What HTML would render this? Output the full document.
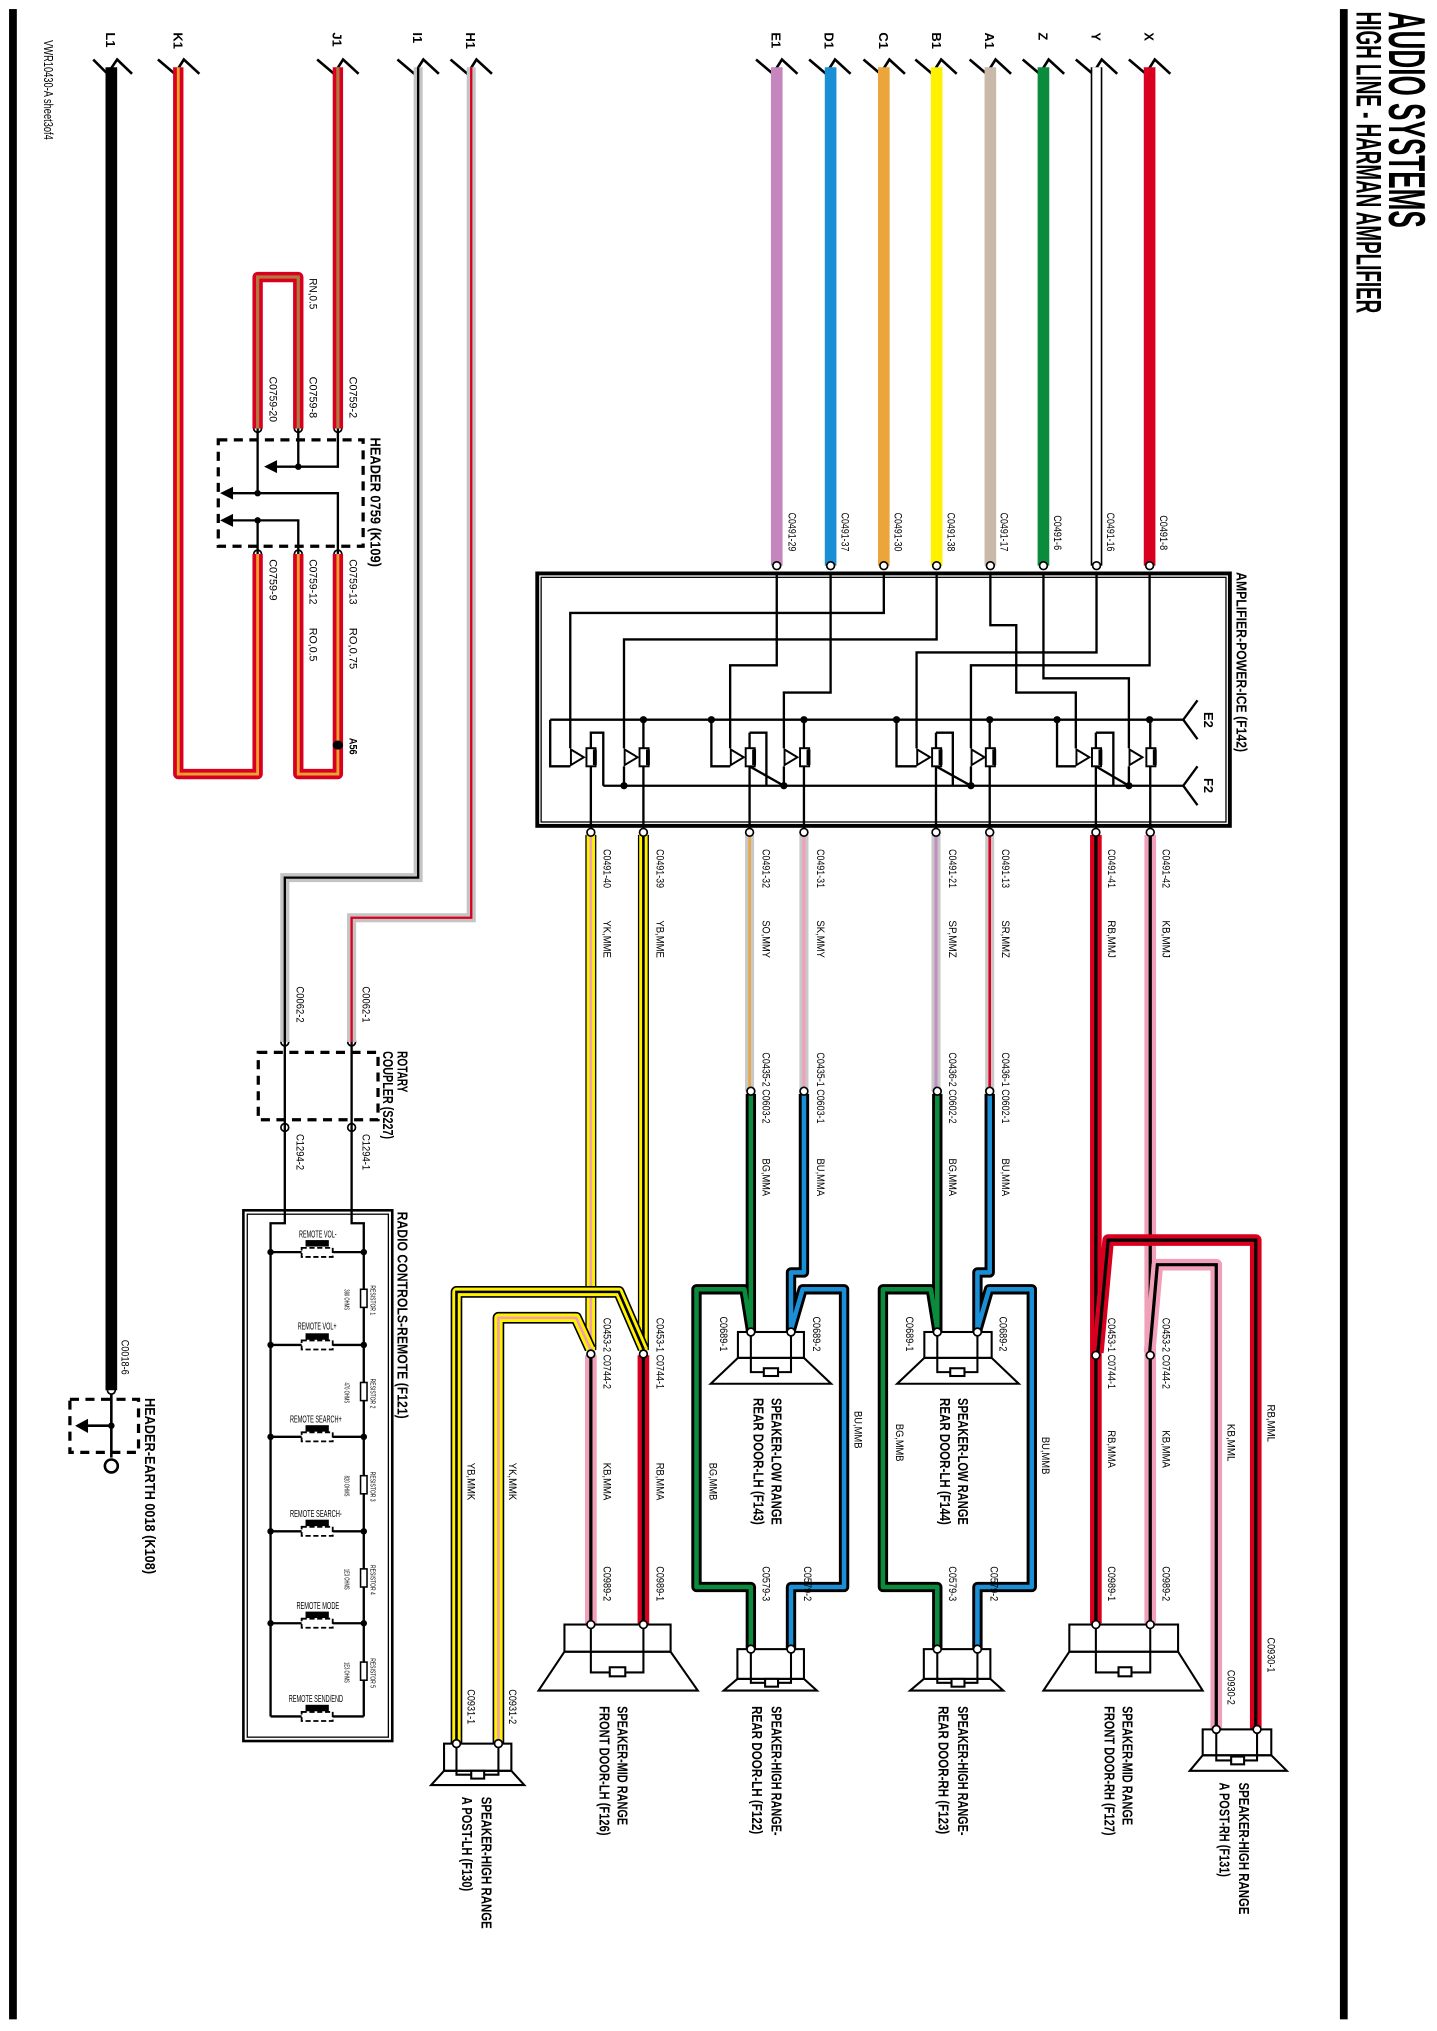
<!DOCTYPE html>
<html><head><meta charset="utf-8">
<style>
html,body{margin:0;padding:0;background:#fff;}
svg{display:block;}
text{font-family:"Liberation Sans Narrow","Liberation Sans",sans-serif;fill:#000;}
.b{font-weight:bold;}
</style></head>
<body>
<svg width="1437" height="2031" viewBox="0 0 1110 1569" preserveAspectRatio="none" xmlns="http://www.w3.org/2000/svg">
<rect width="1110" height="1569" fill="#fff"/>

<!-- border lines -->
<rect x="7" y="7" width="6" height="1553" fill="#000"/>
<rect x="1035" y="7" width="6" height="1553" fill="#000"/>

<!-- Title -->
<text class="b" transform="translate(1073,9) rotate(90)" font-size="40" textLength="167" lengthAdjust="spacingAndGlyphs">AUDIO SYSTEMS</text>
<text class="b" transform="translate(1048,9) rotate(90)" font-size="27" textLength="233" lengthAdjust="spacingAndGlyphs">HIGH LINE - HARMAN AMPLIFIER</text>
<text transform="translate(34,31) rotate(90)" font-size="10" textLength="77" lengthAdjust="spacingAndGlyphs">VWR10430-A sheet3of4</text>

<!-- wire entry ticks and letters -->
<g fill="none" stroke="#000" stroke-width="2">
<polyline points="72,46 83,57 90.5,46 102,57"/>
<polyline points="122,46 135,57 142,46 154,57"/>
<polyline points="245,46 258,57 265,46 277,57"/>
<polyline points="307,46 320,57 327,46 339,57"/>
<polyline points="348,46 361,57 368,46 380,57"/>
<polyline points="584,46 597,57 604,46 616,57"/>
<polyline points="625,46 638,57 645,46 657,57"/>
<polyline points="667,46 680,57 687,46 699,57"/>
<polyline points="707,46 720,57 727,46 739,57"/>
<polyline points="749,46 762,57 769,46 781,57"/>
<polyline points="790,46 803,57 810,46 822,57"/>
<polyline points="831,46 844,57 851,46 863,57"/>
<polyline points="872,46 885,57 892,46 904,57"/>
</g>
<g class="b" font-size="10">
<text transform="translate(82,25) rotate(90)">L1</text>
<text transform="translate(134,25) rotate(90)">K1</text>
<text transform="translate(257,25) rotate(90)">J1</text>
<text transform="translate(319,25) rotate(90)">I1</text>
<text transform="translate(360,25) rotate(90)">H1</text>
<text transform="translate(596,25) rotate(90)">E1</text>
<text transform="translate(637,25) rotate(90)">D1</text>
<text transform="translate(679,25) rotate(90)">C1</text>
<text transform="translate(720,25) rotate(90)">B1</text>
<text transform="translate(761,25) rotate(90)">A1</text>
<text transform="translate(802,25) rotate(90)">Z</text>
<text transform="translate(843,25) rotate(90)">Y</text>
<text transform="translate(884,25) rotate(90)">X</text>
</g>

<!-- top input wires -->
<g fill="none" stroke-linecap="butt">
<path d="M888 52V437" stroke="#d8001e" stroke-width="9"/>
<path d="M847 52V437" stroke="#000" stroke-width="9"/><path d="M847 52V437" stroke="#fff" stroke-width="6.5"/>
<path d="M806 52V437" stroke="#0a8c3c" stroke-width="9"/>
<path d="M765 52V437" stroke="#c9b9a9" stroke-width="9"/>
<path d="M723.5 52V437" stroke="#fff200" stroke-width="9"/>
<path d="M682.7 52V437" stroke="#eba53a" stroke-width="9"/>
<path d="M641.6 52V437" stroke="#1a8fd6" stroke-width="9"/>
<path d="M600 52V437" stroke="#c586be" stroke-width="9"/>
</g>
<g font-size="8.5">
<text transform="translate(896,398) rotate(90)" textLength="27" lengthAdjust="spacingAndGlyphs">C0491-8</text>
<text transform="translate(855,396) rotate(90)" textLength="30" lengthAdjust="spacingAndGlyphs">C0491-16</text>
<text transform="translate(814,398) rotate(90)" textLength="27" lengthAdjust="spacingAndGlyphs">C0491-6</text>
<text transform="translate(773,396) rotate(90)" textLength="30" lengthAdjust="spacingAndGlyphs">C0491-17</text>
<text transform="translate(732,396) rotate(90)" textLength="30" lengthAdjust="spacingAndGlyphs">C0491-38</text>
<text transform="translate(691,396) rotate(90)" textLength="30" lengthAdjust="spacingAndGlyphs">C0491-30</text>
<text transform="translate(650,396) rotate(90)" textLength="30" lengthAdjust="spacingAndGlyphs">C0491-37</text>
<text transform="translate(609,396) rotate(90)" textLength="30" lengthAdjust="spacingAndGlyphs">C0491-29</text>
</g>

<!-- Amplifier box -->
<rect x="415" y="443" width="535" height="195" fill="none" stroke="#000" stroke-width="3"/>
<rect x="418" y="446" width="529" height="189" fill="none" stroke="#000" stroke-width="1"/>
<text class="b" transform="translate(955,442) rotate(90)" font-size="11.5" textLength="139" lengthAdjust="spacingAndGlyphs">AMPLIFIER-POWER-ICE (F142)</text>

<!-- Amp internal routing -->
<g fill="none" stroke="#000" stroke-width="1.8">
<path d="M682.7 443V473.5H440.5V578"/>
<path d="M723.5 443V494H482V578"/>
<path d="M600 443V514H564V578"/>
<path d="M641.6 443V535H605.5V578"/>
<path d="M847 443V504H708V578"/>
<path d="M888 443V514H750V578"/>
<path d="M765 443V483H785V535H831V578"/>
<path d="M806 443V524H872V578"/>
<!-- E2 bus -->
<path d="M425 556H914"/>
<path d="M425 556V592H440.5"/>
<path d="M549.5 556V592H564"/>
<path d="M692.5 556V592H708"/>
<path d="M816.5 556V592H831"/>
<path d="M497 556V578M621 556V578M764.5 556V578M888.5 556V578"/>
<!-- F2 bus -->
<path d="M466 607H914"/>
<path d="M466 607V566H456.4V578"/>
<path d="M482 592V607M605.5 592V607M750 592V607M872 592V607"/>
<path d="M579 592L605.5 607M723 592L750 607M846.5 592L872 607"/>
<!-- outputs -->
<path d="M456.4 592V643M497 592V643M579 592V643M621 592V643M723 592V643M764.5 592V643M846.5 592V643M888.5 592V643"/>
<path d="M579 566V578M723 566V578M846.5 566V578"/>
<path d="M579 566H592V607M723 566H736V607M846.5 566H860V607"/>
<!-- E2/F2 ticks -->
<polyline points="925,541 914,556 925,571"/>
<polyline points="925,592 914,607 925,622"/>
</g>
<g fill="#000">
<circle cx="497" cy="556" r="2.8"/><circle cx="549.5" cy="556" r="2.8"/><circle cx="621" cy="556" r="2.8"/>
<circle cx="692.5" cy="556" r="2.8"/><circle cx="764.5" cy="556" r="2.8"/><circle cx="816.5" cy="556" r="2.8"/><circle cx="888" cy="556" r="2.8"/>
<circle cx="482" cy="607" r="2.8"/><circle cx="605.5" cy="607" r="2.8"/><circle cx="750" cy="607" r="2.8"/><circle cx="872" cy="607" r="2.8"/>
</g>
<text class="b" transform="translate(930,550) rotate(90)" font-size="10">E2</text>
<text class="b" transform="translate(930,601) rotate(90)" font-size="10">F2</text>
<!-- op amps and resistors -->
<g stroke="#000" stroke-width="1.5" fill="#fff">
<polygon points="441,579 451,585 441,591"/><rect x="453" y="578" width="7" height="14"/>
<polygon points="482.5,579 492.5,585 482.5,591"/><rect x="494" y="578" width="7" height="14"/>
<polygon points="564.5,579 574.5,585 564.5,591"/><rect x="576" y="578" width="7" height="14"/>
<polygon points="606,579 616,585 606,591"/><rect x="618" y="578" width="7" height="14"/>
<polygon points="708.5,579 718.5,585 708.5,591"/><rect x="720" y="578" width="7" height="14"/>
<polygon points="750.5,579 760.5,585 750.5,591"/><rect x="761.5" y="578" width="7" height="14"/>
<polygon points="831.5,579 841.5,585 831.5,591"/><rect x="843.5" y="578" width="7" height="14"/>
<polygon points="872.5,579 882.5,585 872.5,591"/><rect x="885.5" y="578" width="7" height="14"/>
</g>
<g fill="#000">
<rect x="458" y="579" width="3" height="12"/><rect x="499" y="579" width="3" height="12"/><rect x="581" y="579" width="3" height="12"/><rect x="623" y="579" width="3" height="12"/>
<rect x="725" y="579" width="3" height="12"/><rect x="766.5" y="579" width="3" height="12"/><rect x="848.5" y="579" width="3" height="12"/><rect x="890.5" y="579" width="3" height="12"/>
</g>

<!-- amp output wires to C0435 / C0453 -->
<g fill="none">
<path d="M456.4 645V1043" stroke="#000" stroke-width="8.5"/><path d="M456.4 645V1043" stroke="#fff200" stroke-width="6.5"/><path d="M456.4 645V1043" stroke="#f0a0b0" stroke-width="2"/>
<path d="M497 645V1043" stroke="#000" stroke-width="8.5"/><path d="M497 645V1043" stroke="#fff200" stroke-width="6.5"/><path d="M497 645V1043" stroke="#000" stroke-width="2"/>
<path d="M579 645V843" stroke="#c8c8c8" stroke-width="7"/><path d="M579 645V843" stroke="#e8a840" stroke-width="2"/>
<path d="M621 645V843" stroke="#c8c8c8" stroke-width="7"/><path d="M621 645V843" stroke="#f0a0b8" stroke-width="2.5"/>
<path d="M723 645V843" stroke="#c8c8c8" stroke-width="7"/><path d="M723 645V843" stroke="#c090c0" stroke-width="2.5"/>
<path d="M764.5 645V843" stroke="#c8c8c8" stroke-width="7"/><path d="M764.5 645V843" stroke="#d8001e" stroke-width="2"/>
<!-- front RH -->
<path d="M846.5 645V1254" stroke="#d8001e" stroke-width="9"/><path d="M846.5 645V1254" stroke="#000" stroke-width="2.5"/>
<path d="M888.5 645V1254" stroke="#f0a0b8" stroke-width="9"/><path d="M888.5 645V1254" stroke="#000" stroke-width="2.5"/>
<path d="M848 1045L856 958H970V1336" stroke="#d8001e" stroke-width="9" stroke-linejoin="round"/><path d="M848 1045L856 958H970V1336" stroke="#000" stroke-width="2.5"/>
<path d="M888 1045L894 977H939.5V1336" stroke="#f0a0b8" stroke-width="9" stroke-linejoin="round"/><path d="M888 1045L894 977H939.5V1336" stroke="#000" stroke-width="2.5"/>
<!-- front LH below connectors -->
<path d="M456.4 1047V1255" stroke="#f0a0b8" stroke-width="9"/><path d="M456.4 1047V1255" stroke="#000" stroke-width="2.5"/>
<path d="M497 1047V1255" stroke="#d8001e" stroke-width="9"/><path d="M497 1047V1255" stroke="#000" stroke-width="2.5"/>
<!-- A post LH branches -->
<path d="M497 1042L478 998H352.6V1347" stroke="#000" stroke-width="9" stroke-linejoin="round"/><path d="M497 1042L478 998H352.6V1347" stroke="#fff200" stroke-width="6.5" stroke-linejoin="round"/><path d="M497 1042L478 998H352.6V1347" stroke="#000" stroke-width="2"/>
<path d="M456 1042L445 1018H385V1347" stroke="#000" stroke-width="9" stroke-linejoin="round"/><path d="M456 1042L445 1018H385V1347" stroke="#fff200" stroke-width="6.5" stroke-linejoin="round"/><path d="M456 1042L445 1018H385V1347" stroke="#f0a0b0" stroke-width="2"/>
<!-- rear LH -->
<path d="M580 845V1029M580 1027L575 996H538V1226H580V1274" stroke="#000" stroke-width="8" stroke-linejoin="round"/>
<path d="M580 845V1029M580 1027L575 996H538V1226H580V1274" stroke="#0a8c3c" stroke-width="3.5" stroke-linejoin="round"/>
<path d="M621 845V983H611V1029M611 1027L620 996H652V1226H611V1274" stroke="#000" stroke-width="8" stroke-linejoin="round"/>
<path d="M621 845V983H611V1029M611 1027L620 996H652V1226H611V1274" stroke="#1a8fd6" stroke-width="3.5" stroke-linejoin="round"/>
<!-- rear RH -->
<path d="M724 845V1029M724 1027L719 996H682V1226H724V1274" stroke="#000" stroke-width="8" stroke-linejoin="round"/>
<path d="M724 845V1029M724 1027L719 996H682V1226H724V1274" stroke="#0a8c3c" stroke-width="3.5" stroke-linejoin="round"/>
<path d="M764.5 845V983H755V1029M755 1027L764 996H797V1226H755V1274" stroke="#000" stroke-width="8" stroke-linejoin="round"/>
<path d="M764.5 845V983H755V1029M755 1027L764 996H797V1226H755V1274" stroke="#1a8fd6" stroke-width="3.5" stroke-linejoin="round"/>
</g>

<!-- connectors -->
<g fill="#fff" stroke="#000" stroke-width="1.3">
<circle cx="600" cy="437" r="3"/><circle cx="641.6" cy="437" r="3"/><circle cx="682.7" cy="437" r="3"/><circle cx="723.5" cy="437" r="3"/>
<circle cx="765" cy="437" r="3"/><circle cx="806" cy="437" r="3"/><circle cx="847" cy="437" r="3"/><circle cx="888" cy="437" r="3"/>
<circle cx="456.4" cy="643" r="3"/><circle cx="497" cy="643" r="3"/><circle cx="579" cy="643" r="3"/><circle cx="621" cy="643" r="3"/>
<circle cx="723" cy="643" r="3"/><circle cx="764.5" cy="643" r="3"/><circle cx="846.5" cy="643" r="3"/><circle cx="888.5" cy="643" r="3"/>
<circle cx="580" cy="843" r="3"/><circle cx="621" cy="843" r="3"/><circle cx="724" cy="843" r="3"/><circle cx="764.5" cy="843" r="3"/>
<circle cx="456.4" cy="1046" r="3"/><circle cx="497" cy="1046" r="3"/><circle cx="846.5" cy="1047" r="3"/><circle cx="888.5" cy="1047" r="3"/>
<circle cx="199" cy="331" r="3"/><circle cx="230.4" cy="331" r="3"/><circle cx="261" cy="331" r="3"/>
<circle cx="199" cy="428" r="3"/><circle cx="230.4" cy="428" r="3"/><circle cx="261" cy="428" r="3"/>
<circle cx="220" cy="805" r="3"/><circle cx="271.6" cy="805" r="3"/><circle cx="220" cy="871" r="3"/><circle cx="271.6" cy="871" r="3"/>
<circle cx="86" cy="1074" r="3"/>
</g>

<!-- labels below amp -->
<g font-size="8.5">
<text transform="translate(466,656) rotate(90)" textLength="30" lengthAdjust="spacingAndGlyphs">C0491-40</text>
<text transform="translate(507,656) rotate(90)" textLength="30" lengthAdjust="spacingAndGlyphs">C0491-39</text>
<text transform="translate(589,656) rotate(90)" textLength="30" lengthAdjust="spacingAndGlyphs">C0491-32</text>
<text transform="translate(631,656) rotate(90)" textLength="30" lengthAdjust="spacingAndGlyphs">C0491-31</text>
<text transform="translate(733,656) rotate(90)" textLength="30" lengthAdjust="spacingAndGlyphs">C0491-21</text>
<text transform="translate(774,656) rotate(90)" textLength="30" lengthAdjust="spacingAndGlyphs">C0491-13</text>
<text transform="translate(856,656) rotate(90)" textLength="30" lengthAdjust="spacingAndGlyphs">C0491-41</text>
<text transform="translate(898,656) rotate(90)" textLength="30" lengthAdjust="spacingAndGlyphs">C0491-42</text>
<text transform="translate(466,711) rotate(90)" textLength="29" lengthAdjust="spacingAndGlyphs">YK,MME</text>
<text transform="translate(507,711) rotate(90)" textLength="29" lengthAdjust="spacingAndGlyphs">YB,MME</text>
<text transform="translate(589,711) rotate(90)" textLength="29" lengthAdjust="spacingAndGlyphs">SO,MMY</text>
<text transform="translate(631,711) rotate(90)" textLength="29" lengthAdjust="spacingAndGlyphs">SK,MMY</text>
<text transform="translate(733,711) rotate(90)" textLength="29" lengthAdjust="spacingAndGlyphs">SP,MMZ</text>
<text transform="translate(774,711) rotate(90)" textLength="29" lengthAdjust="spacingAndGlyphs">SR,MMZ</text>
<text transform="translate(856,711) rotate(90)" textLength="29" lengthAdjust="spacingAndGlyphs">RB,MMJ</text>
<text transform="translate(898,711) rotate(90)" textLength="29" lengthAdjust="spacingAndGlyphs">KB,MMJ</text>
<text transform="translate(589,813) rotate(90)" textLength="55" lengthAdjust="spacingAndGlyphs">C0435-2 C0603-2</text>
<text transform="translate(631,813) rotate(90)" textLength="55" lengthAdjust="spacingAndGlyphs">C0435-1 C0603-1</text>
<text transform="translate(733,813) rotate(90)" textLength="55" lengthAdjust="spacingAndGlyphs">C0436-2 C0602-2</text>
<text transform="translate(774,813) rotate(90)" textLength="55" lengthAdjust="spacingAndGlyphs">C0436-1 C0602-1</text>
<text transform="translate(589,895) rotate(90)" textLength="29" lengthAdjust="spacingAndGlyphs">BG,MMA</text>
<text transform="translate(631,895) rotate(90)" textLength="29" lengthAdjust="spacingAndGlyphs">BU,MMA</text>
<text transform="translate(733,895) rotate(90)" textLength="29" lengthAdjust="spacingAndGlyphs">BG,MMA</text>
<text transform="translate(774,895) rotate(90)" textLength="29" lengthAdjust="spacingAndGlyphs">BU,MMA</text>
<!-- front LH -->
<text transform="translate(466,1018) rotate(90)" textLength="55" lengthAdjust="spacingAndGlyphs">C0453-2 C0744-2</text>
<text transform="translate(507,1018) rotate(90)" textLength="55" lengthAdjust="spacingAndGlyphs">C0453-1 C0744-1</text>
<text transform="translate(466,1130) rotate(90)" textLength="29" lengthAdjust="spacingAndGlyphs">KB,MMA</text>
<text transform="translate(507,1130) rotate(90)" textLength="29" lengthAdjust="spacingAndGlyphs">RB,MMA</text>
<text transform="translate(466,1210) rotate(90)" textLength="27" lengthAdjust="spacingAndGlyphs">C0989-2</text>
<text transform="translate(507,1210) rotate(90)" textLength="27" lengthAdjust="spacingAndGlyphs">C0989-1</text>
<text transform="translate(361,1130) rotate(90)" textLength="29" lengthAdjust="spacingAndGlyphs">YB,MMK</text>
<text transform="translate(393,1130) rotate(90)" textLength="29" lengthAdjust="spacingAndGlyphs">YK,MMK</text>
<text transform="translate(361,1305) rotate(90)" textLength="27" lengthAdjust="spacingAndGlyphs">C0931-1</text>
<text transform="translate(393,1305) rotate(90)" textLength="27" lengthAdjust="spacingAndGlyphs">C0931-2</text>
<!-- rear LH -->
<text transform="translate(556,1017) rotate(90)" textLength="27" lengthAdjust="spacingAndGlyphs">C0689-1</text>
<text transform="translate(628,1017) rotate(90)" textLength="27" lengthAdjust="spacingAndGlyphs">C0689-2</text>
<text transform="translate(660,1090) rotate(90)" textLength="29" lengthAdjust="spacingAndGlyphs">BU,MMB</text>
<text transform="translate(548,1130) rotate(90)" textLength="29" lengthAdjust="spacingAndGlyphs">BG,MMB</text>
<text transform="translate(589,1210) rotate(90)" textLength="27" lengthAdjust="spacingAndGlyphs">C0579-3</text>
<text transform="translate(621,1210) rotate(90)" textLength="27" lengthAdjust="spacingAndGlyphs">C0579-2</text>
<!-- rear RH -->
<text transform="translate(700,1017) rotate(90)" textLength="27" lengthAdjust="spacingAndGlyphs">C0689-1</text>
<text transform="translate(772,1017) rotate(90)" textLength="27" lengthAdjust="spacingAndGlyphs">C0689-2</text>
<text transform="translate(805,1110) rotate(90)" textLength="29" lengthAdjust="spacingAndGlyphs">BU,MMB</text>
<text transform="translate(692,1100) rotate(90)" textLength="29" lengthAdjust="spacingAndGlyphs">BG,MMB</text>
<text transform="translate(733,1210) rotate(90)" textLength="27" lengthAdjust="spacingAndGlyphs">C0579-3</text>
<text transform="translate(765,1210) rotate(90)" textLength="27" lengthAdjust="spacingAndGlyphs">C0579-2</text>
<!-- front RH -->
<text transform="translate(856,1018) rotate(90)" textLength="55" lengthAdjust="spacingAndGlyphs">C0453-1 C0744-1</text>
<text transform="translate(898,1018) rotate(90)" textLength="55" lengthAdjust="spacingAndGlyphs">C0453-2 C0744-2</text>
<text transform="translate(856,1105) rotate(90)" textLength="29" lengthAdjust="spacingAndGlyphs">RB,MMA</text>
<text transform="translate(898,1105) rotate(90)" textLength="29" lengthAdjust="spacingAndGlyphs">KB,MMA</text>
<text transform="translate(948,1100) rotate(90)" textLength="29" lengthAdjust="spacingAndGlyphs">KB,MML</text>
<text transform="translate(979,1085) rotate(90)" textLength="29" lengthAdjust="spacingAndGlyphs">RB,MML</text>
<text transform="translate(856,1210) rotate(90)" textLength="27" lengthAdjust="spacingAndGlyphs">C0989-1</text>
<text transform="translate(898,1210) rotate(90)" textLength="27" lengthAdjust="spacingAndGlyphs">C0989-2</text>
<text transform="translate(948,1290) rotate(90)" textLength="27" lengthAdjust="spacingAndGlyphs">C0930-2</text>
<text transform="translate(979,1265) rotate(90)" textLength="27" lengthAdjust="spacingAndGlyphs">C0930-1</text>
</g>

<!-- Speakers -->
<g fill="none" stroke="#000" stroke-width="1.6">
<!-- front RH mid -->
<rect x="826" y="1255" width="84" height="21"/><polygon points="826,1276 910,1276 929,1306 806,1306"/>
<path d="M846.5 1255V1292H864M888.5 1255V1292H874"/><rect x="864" y="1288" width="10" height="7" fill="#fff"/>
<!-- A post RH -->
<rect x="929" y="1336" width="53" height="20"/><polygon points="929,1356 982,1356 994,1368 919,1368"/>
<path d="M939.5 1336V1360H951M971 1336V1360H961"/><rect x="951" y="1357" width="10" height="6" fill="#fff"/>
<!-- rear RH high -->
<rect x="713.6" y="1274" width="51.4" height="23"/><polygon points="713.6,1297 765,1297 775,1306 703,1306"/>
<path d="M724 1274V1300H735M755 1274V1300H745"/><rect x="735" y="1297" width="10" height="6" fill="#fff"/>
<!-- rear LH high -->
<rect x="569.6" y="1274" width="51.4" height="23"/><polygon points="569.6,1297 621,1297 631,1306 559,1306"/>
<path d="M580 1274V1300H591M611 1274V1300H601"/><rect x="591" y="1297" width="10" height="6" fill="#fff"/>
<!-- rear LH low -->
<rect x="570" y="1029" width="51" height="20"/><polygon points="570,1049 621,1049 642,1069 549,1069"/>
<path d="M580 1029V1060H590M611 1029V1060H601"/><rect x="590" y="1057" width="11" height="6" fill="#fff"/>
<!-- rear RH low -->
<rect x="714" y="1029" width="52" height="20"/><polygon points="714,1049 766,1049 787,1069 693,1069"/>
<path d="M724 1029V1060H734M755 1029V1060H745"/><rect x="734" y="1057" width="11" height="6" fill="#fff"/>
<!-- front LH mid -->
<rect x="436" y="1255" width="82" height="21"/><polygon points="436,1276 518,1276 539,1306 416,1306"/>
<path d="M456.4 1255V1292H471M497 1255V1292H483"/><rect x="471" y="1288" width="12" height="7" fill="#fff"/>
<!-- A post LH -->
<rect x="343" y="1347" width="52" height="21"/><polygon points="343,1368 395,1368 405,1379 333,1379"/>
<path d="M352.6 1347V1371H364M385 1347V1371H374"/><rect x="364" y="1368" width="10" height="6" fill="#fff"/>
</g>
<g fill="#fff" stroke="#000" stroke-width="1.3">
<circle cx="846.5" cy="1255" r="3"/><circle cx="888.5" cy="1255" r="3"/><circle cx="939.5" cy="1336" r="3"/><circle cx="971" cy="1336" r="3"/>
<circle cx="724" cy="1274" r="3"/><circle cx="755" cy="1274" r="3"/><circle cx="580" cy="1274" r="3"/><circle cx="611" cy="1274" r="3"/>
<circle cx="580" cy="1029" r="3"/><circle cx="611" cy="1029" r="3"/><circle cx="724" cy="1029" r="3"/><circle cx="755" cy="1029" r="3"/>
<circle cx="456.4" cy="1255" r="3"/><circle cx="497" cy="1255" r="3"/><circle cx="352.6" cy="1347" r="3"/><circle cx="385" cy="1347" r="3"/>
</g>
<g class="b" font-size="11.5">
<text transform="translate(867,1318) rotate(90)" textLength="92" lengthAdjust="spacingAndGlyphs">SPEAKER-MID RANGE</text>
<text transform="translate(853,1318) rotate(90)" textLength="100" lengthAdjust="spacingAndGlyphs">FRONT DOOR-RH (F127)</text>
<text transform="translate(957,1377) rotate(90)" textLength="102" lengthAdjust="spacingAndGlyphs">SPEAKER-HIGH RANGE</text>
<text transform="translate(942,1377) rotate(90)" textLength="73" lengthAdjust="spacingAndGlyphs">A POST-RH (F131)</text>
<text transform="translate(740,1318) rotate(90)" textLength="100" lengthAdjust="spacingAndGlyphs">SPEAKER-HIGH RANGE-</text>
<text transform="translate(725,1318) rotate(90)" textLength="99" lengthAdjust="spacingAndGlyphs">REAR DOOR-RH (F123)</text>
<text transform="translate(596,1318) rotate(90)" textLength="100" lengthAdjust="spacingAndGlyphs">SPEAKER-HIGH RANGE-</text>
<text transform="translate(581,1318) rotate(90)" textLength="99" lengthAdjust="spacingAndGlyphs">REAR DOOR-LH (F122)</text>
<text transform="translate(477,1318) rotate(90)" textLength="92" lengthAdjust="spacingAndGlyphs">SPEAKER-MID RANGE</text>
<text transform="translate(463,1318) rotate(90)" textLength="100" lengthAdjust="spacingAndGlyphs">FRONT DOOR-LH (F126)</text>
<text transform="translate(372,1388) rotate(90)" textLength="102" lengthAdjust="spacingAndGlyphs">SPEAKER-HIGH RANGE</text>
<text transform="translate(357,1388) rotate(90)" textLength="73" lengthAdjust="spacingAndGlyphs">A POST-LH (F130)</text>
<text transform="translate(596,1080) rotate(90)" textLength="98" lengthAdjust="spacingAndGlyphs">SPEAKER-LOW RANGE</text>
<text transform="translate(582,1080) rotate(90)" textLength="98" lengthAdjust="spacingAndGlyphs">REAR DOOR-LH (F143)</text>
<text transform="translate(740,1080) rotate(90)" textLength="98" lengthAdjust="spacingAndGlyphs">SPEAKER-LOW RANGE</text>
<text transform="translate(726,1080) rotate(90)" textLength="98" lengthAdjust="spacingAndGlyphs">REAR DOOR-LH (F144)</text>
</g>

<!-- Left side wires -->
<g fill="none">
<path d="M86 52V1074" stroke="#000" stroke-width="9"/>
<path d="M137.7 52V598H199V428" stroke="#d8001e" stroke-width="8" stroke-linejoin="round"/>
<path d="M137.7 52V598H199V428" stroke="#f0a030" stroke-width="2.2"/>
<path d="M230.4 428V598H261V428" stroke="#d8001e" stroke-width="8" stroke-linejoin="round"/>
<path d="M230.4 428V598H261V428" stroke="#f0a030" stroke-width="2.2"/>
<path d="M199 331V214H230.4V331" stroke="#d8001e" stroke-width="8" stroke-linejoin="round"/>
<path d="M199 331V214H230.4V331" stroke="#b07840" stroke-width="2.5"/>
<path d="M261 52V331" stroke="#d8001e" stroke-width="8"/><path d="M261 52V331" stroke="#b07840" stroke-width="2.5"/>
<path d="M323 52V678H220V805" stroke="#c4c4c4" stroke-width="7"/><path d="M323 52V678H220V805" stroke="#000" stroke-width="1.8"/>
<path d="M364 52V709H271.6V805" stroke="#c4c4c4" stroke-width="7"/><path d="M364 52V709H271.6V805" stroke="#d8001e" stroke-width="1.8"/>
</g>
<ellipse cx="261" cy="575.6" rx="4" ry="3.5" fill="#000"/>

<!-- Header 0759 -->
<rect x="168.6" y="339.8" width="111.9" height="82.2" fill="none" stroke="#000" stroke-width="2.5" stroke-dasharray="7,5"/>
<g fill="none" stroke="#000" stroke-width="1.8">
<path d="M261 331V360.5H212"/><path d="M230.4 331V360.5"/>
<path d="M199 331V381"/><path d="M261 428V381H178"/>
<path d="M230.4 428V402H178"/><path d="M199 402V428"/>
</g>
<g fill="#000">
<polygon points="204,360.5 214,355.5 214,365.5"/>
<polygon points="170,381 180,376 180,386"/>
<polygon points="170,402 180,397 180,407"/>
<circle cx="230.4" cy="360.5" r="2.5"/><circle cx="199" cy="381" r="2.5"/><circle cx="199" cy="402" r="2.5"/>
</g>
<g font-size="8.5">
<text transform="translate(270,291) rotate(90)" textLength="32" lengthAdjust="spacingAndGlyphs">C0759-2</text>
<text transform="translate(239,291) rotate(90)" textLength="32" lengthAdjust="spacingAndGlyphs">C0759-8</text>
<text transform="translate(208,291) rotate(90)" textLength="35" lengthAdjust="spacingAndGlyphs">C0759-20</text>
<text transform="translate(239,215) rotate(90)" textLength="24" lengthAdjust="spacingAndGlyphs">RN,0.5</text>
<text transform="translate(270,432) rotate(90)" textLength="35" lengthAdjust="spacingAndGlyphs">C0759-13</text>
<text transform="translate(239,432) rotate(90)" textLength="35" lengthAdjust="spacingAndGlyphs">C0759-12</text>
<text transform="translate(208,432) rotate(90)" textLength="32" lengthAdjust="spacingAndGlyphs">C0759-9</text>
<text transform="translate(270,485) rotate(90)" textLength="32" lengthAdjust="spacingAndGlyphs">RO,0.75</text>
<text transform="translate(239,485) rotate(90)" textLength="26" lengthAdjust="spacingAndGlyphs">RO,0.5</text>
<text class="b" transform="translate(270,570) rotate(90)" textLength="13" lengthAdjust="spacingAndGlyphs">A56</text>
</g>
<text class="b" transform="translate(286,338) rotate(90)" font-size="11.5" textLength="100" lengthAdjust="spacingAndGlyphs">HEADER 0759 (K109)</text>

<!-- Rotary coupler -->
<rect x="199.5" y="813" width="92.5" height="52" fill="none" stroke="#000" stroke-width="2.5" stroke-dasharray="7,5"/>
<g fill="none" stroke="#000" stroke-width="1.8">
<path d="M220 805V945H209V1326"/>
<path d="M271.6 805V945H281V1326"/>
</g>
<g font-size="8.5">
<text transform="translate(229,762) rotate(90)" textLength="28" lengthAdjust="spacingAndGlyphs">C0062-2</text>
<text transform="translate(280,762) rotate(90)" textLength="28" lengthAdjust="spacingAndGlyphs">C0062-1</text>
<text transform="translate(229,876) rotate(90)" textLength="28" lengthAdjust="spacingAndGlyphs">C1294-2</text>
<text transform="translate(280,876) rotate(90)" textLength="28" lengthAdjust="spacingAndGlyphs">C1294-1</text>
</g>
<text class="b" transform="translate(307,812) rotate(90)" font-size="11.5" textLength="32" lengthAdjust="spacingAndGlyphs">ROTARY</text>
<text class="b" transform="translate(296,812) rotate(90)" font-size="11.5" textLength="68" lengthAdjust="spacingAndGlyphs">COUPLER (S227)</text>

<!-- Radio controls remote -->
<rect x="188" y="935" width="115" height="410" fill="none" stroke="#000" stroke-width="2"/>
<rect x="191" y="938" width="109" height="404" fill="none" stroke="#000" stroke-width="1"/>
<text class="b" transform="translate(307,936) rotate(90)" font-size="11.5" textLength="160" lengthAdjust="spacingAndGlyphs">RADIO CONTROLS-REMOTE (F121)</text>
<g fill="none" stroke="#000" stroke-width="1.8">
<path d="M209 967.3H233M257 967.3H281"/>
<path d="M209 1039H233M257 1039H281"/>
<path d="M209 1110H233M257 1110H281"/>
<path d="M209 1183H233M257 1183H281"/>
<path d="M209 1254H233M257 1254H281"/>
<path d="M209 1326H233M257 1326H281"/>
</g>
<g fill="none" stroke="#000" stroke-width="1.4">
<rect x="233" y="964" width="24" height="7" stroke-dasharray="4,2"/>
<rect x="233" y="1035.5" width="24" height="7" stroke-dasharray="4,2"/>
<rect x="233" y="1106.5" width="24" height="7" stroke-dasharray="4,2"/>
<rect x="233" y="1179.5" width="24" height="7" stroke-dasharray="4,2"/>
<rect x="233" y="1250.5" width="24" height="7" stroke-dasharray="4,2"/>
<rect x="233" y="1322.5" width="24" height="7" stroke-dasharray="4,2"/>
</g>
<g fill="#000">
<rect x="236" y="958" width="18" height="5"/><rect x="236" y="1030" width="18" height="5"/><rect x="236" y="1101" width="18" height="5"/>
<rect x="236" y="1174" width="18" height="5"/><rect x="236" y="1245" width="18" height="5"/><rect x="236" y="1317" width="18" height="5"/>
<circle cx="209" cy="967.3" r="2.5"/><circle cx="281" cy="967.3" r="2.5"/>
<circle cx="209" cy="1039" r="2.5"/><circle cx="281" cy="1039" r="2.5"/>
<circle cx="209" cy="1110" r="2.5"/><circle cx="281" cy="1110" r="2.5"/>
<circle cx="209" cy="1183" r="2.5"/><circle cx="281" cy="1183" r="2.5"/>
<circle cx="209" cy="1254" r="2.5"/><circle cx="281" cy="1254" r="2.5"/>
</g>
<g fill="#fff" stroke="#000" stroke-width="1.2">
<rect x="278.5" y="996" width="5" height="14"/><rect x="278.5" y="1068" width="5" height="14"/><rect x="278.5" y="1140" width="5" height="14"/>
<rect x="278.5" y="1212" width="5" height="14"/><rect x="278.5" y="1284" width="5" height="14"/>
</g>
<g font-size="7.5">
<text x="231" y="956" textLength="29" lengthAdjust="spacingAndGlyphs">REMOTE VOL-</text>
<text x="230" y="1027" textLength="30" lengthAdjust="spacingAndGlyphs">REMOTE VOL+</text>
<text x="224" y="1099" textLength="40" lengthAdjust="spacingAndGlyphs">REMOTE SEARCH+</text>
<text x="224" y="1172" textLength="40" lengthAdjust="spacingAndGlyphs">REMOTE SEARCH-</text>
<text x="229" y="1243" textLength="33" lengthAdjust="spacingAndGlyphs">REMOTE MODE</text>
<text x="223" y="1315" textLength="42" lengthAdjust="spacingAndGlyphs">REMOTE SEND/END</text>
</g>
<g font-size="6">
<text transform="translate(286,993) rotate(90)" textLength="23" lengthAdjust="spacingAndGlyphs">RESISTOR 1</text>
<text transform="translate(266,996) rotate(90)" textLength="16" lengthAdjust="spacingAndGlyphs">390 OHMS</text>
<text transform="translate(286,1065) rotate(90)" textLength="23" lengthAdjust="spacingAndGlyphs">RESISTOR 2</text>
<text transform="translate(266,1068) rotate(90)" textLength="16" lengthAdjust="spacingAndGlyphs">470 OHMS</text>
<text transform="translate(286,1137) rotate(90)" textLength="23" lengthAdjust="spacingAndGlyphs">RESISTOR 3</text>
<text transform="translate(266,1140) rotate(90)" textLength="16" lengthAdjust="spacingAndGlyphs">820 OHMS</text>
<text transform="translate(286,1209) rotate(90)" textLength="23" lengthAdjust="spacingAndGlyphs">RESISTOR 4</text>
<text transform="translate(266,1212) rotate(90)" textLength="16" lengthAdjust="spacingAndGlyphs">1E3 OHMS</text>
<text transform="translate(286,1281) rotate(90)" textLength="23" lengthAdjust="spacingAndGlyphs">RESISTOR 5</text>
<text transform="translate(266,1284) rotate(90)" textLength="16" lengthAdjust="spacingAndGlyphs">1E3 OHMS</text>
</g>

<!-- Header earth -->
<rect x="54" y="1081" width="53" height="41" fill="none" stroke="#000" stroke-width="2.5" stroke-dasharray="7,5"/>
<g fill="none" stroke="#000" stroke-width="2">
<path d="M86 1077V1126"/><path d="M86 1101.4H66"/>
<circle cx="86" cy="1132.5" r="5"/>
</g>
<polygon points="58,1101.4 68,1096 68,1107" fill="#000"/>
<circle cx="86" cy="1101.4" r="2.5" fill="#000"/>
<text transform="translate(94,1035) rotate(90)" font-size="8.5" textLength="27" lengthAdjust="spacingAndGlyphs">C0018-6</text>
<text class="b" transform="translate(112,1080) rotate(90)" font-size="11.5" textLength="136" lengthAdjust="spacingAndGlyphs">HEADER-EARTH 0018 (K108)</text>
</svg>
</body></html>
